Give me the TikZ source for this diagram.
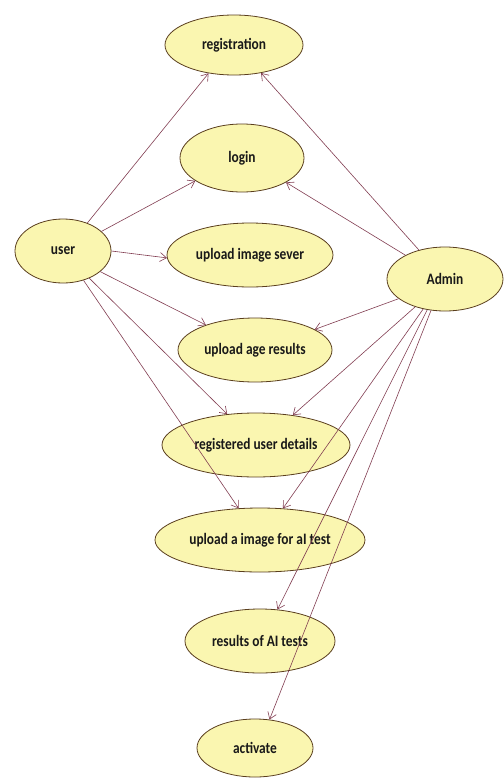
\documentclass[tikz,border=0pt]{standalone}
\usepackage{fontspec}
\setmainfont{Carlito}[FakeStretch=0.84]
\usetikzlibrary{shapes.geometric,arrows.meta}
\definecolor{ucfill}{RGB}{250,246,176}
\definecolor{ucdraw}{RGB}{90,62,30}
\definecolor{arr}{RGB}{130,62,82}
\begin{document}
\begin{tikzpicture}[x=1bp,y=-1bp,
  uc/.style={ellipse,draw=ucdraw,fill=ucfill,line width=0.8pt,inner sep=0pt,
    font=\fontsize{16}{18}\selectfont\bfseries,text=black!90},
  assoc/.style={draw=arr,line width=0.6pt,-{Straight Barb[length=6.5bp,width=9bp]}}]
\path[use as bounding box,fill=white] (0,0) rectangle (504,778);
\node[uc,minimum width=138bp,minimum height=60bp] (reg) at (234,45) {registration};
\node[uc,minimum width=124bp,minimum height=68bp] (login) at (242,158) {login};
\node[uc,minimum width=96bp,minimum height=64bp] (user) at (63,251) {user};
\node[uc,minimum width=166bp,minimum height=64bp] (uis) at (250,255) {upload image sever};
\node[uc,minimum width=116bp,minimum height=64bp] (admin) at (445,279) {Admin};
\node[uc,minimum width=154bp,minimum height=64bp] (uar) at (255,350) {upload age results};
\node[uc,minimum width=188bp,minimum height=64bp] (rud) at (256,445) {registered user details};
\node[uc,minimum width=210bp,minimum height=64bp] (uai) at (260,540) {upload a image for aI test};
\node[uc,minimum width=150bp,minimum height=64bp] (res) at (260,641) {results of AI tests};
\node[uc,minimum width=116bp,minimum height=58bp] (act) at (255,748) {activate};
% user associations
\draw[assoc] (user.49) -- (reg.228);
\draw[assoc] (user.27) -- (login.206);
\draw[assoc] (user.0) -- (uis.182);
\draw[assoc] (user.-29) -- (uar.153);
\draw[assoc] (user.-46) -- (rud.133);
\draw[assoc] (user.-55) -- (uai.124);
% admin associations
\draw[assoc] (admin.132) -- (reg.-46);
\draw[assoc] (admin.149) -- (login.-29);
\draw[assoc] (admin.203) -- (uar.19);
\draw[assoc] (admin.223) -- (rud.39);
\draw[assoc] (admin.234) -- (uai.54);
\draw[assoc] (admin.240) -- (res.61);
\draw[assoc] (admin.246) -- (act.63);
\end{tikzpicture}
\end{document}
